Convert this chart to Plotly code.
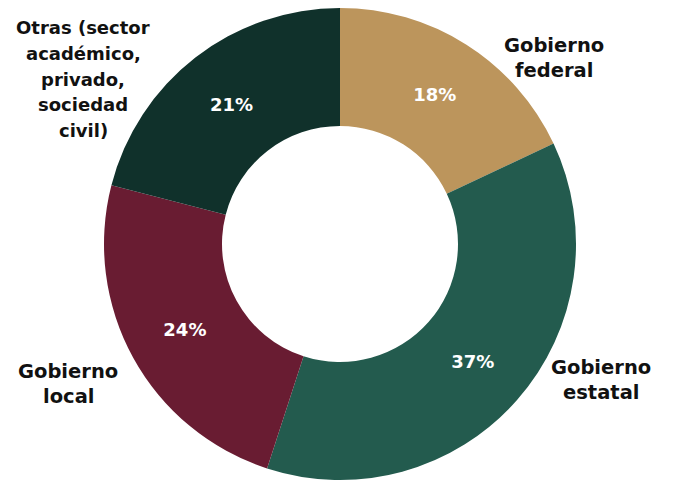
import plotly.graph_objects as go

labels = ["Gobierno federal", "Gobierno estatal", "Gobierno local", "Otras (sector académico, privado, sociedad civil)"]
values = [18, 37, 24, 21]
colors = ["#BC955C", "#235B4E", "#691C32", "#10312B"]
label_lines = [["Gobierno", "federal"], ["Gobierno", "estatal"], ["Gobierno", "local"],
               ["Otras (sector", "académico,", "privado,", "sociedad", "civil)"]]
label_pos = [(554, 58), (601, 380), (68, 384), (83, 79)]
label_size = [19.5, 19.5, 19.5, 18]

W, H = 676, 485
OFF = 8  # page body margin
cx, cy, R = 340 - OFF, 244 - OFF, 236
LINE = 25.5

fig = go.Figure(go.Pie(
    labels=labels, values=values, sort=False, direction="clockwise", rotation=0,
    hole=0.5, marker=dict(colors=colors, line=dict(width=0)),
    textinfo="percent", textposition="inside", insidetextorientation="horizontal",
    textfont=dict(family="DejaVu Sans", size=18, color="white", weight="bold"),
    domain=dict(x=[(cx - R) / W, (cx + R) / W],
                y=[max(0, (H - cy - R) / H), min(1, (H - cy + R) / H)]),
    showlegend=False, hoverinfo="label+percent",
))
for lines, (x, y), fs in zip(label_lines, label_pos, label_size):
    n = len(lines)
    for i, t in enumerate(lines):
        yy = y + (i - (n - 1) / 2) * LINE
        fig.add_annotation(x=(x - OFF) / W, y=1 - (yy - OFF) / H, xref="paper", yref="paper",
                           text=t, showarrow=False, xanchor="center", yanchor="middle",
                           font=dict(family="DejaVu Sans", size=fs, color="#111111", weight="bold"))
fig.update_layout(width=W, height=H, margin=dict(l=0, r=0, t=0, b=0),
                  paper_bgcolor="white", plot_bgcolor="white")
fig.write_html("out.html")
